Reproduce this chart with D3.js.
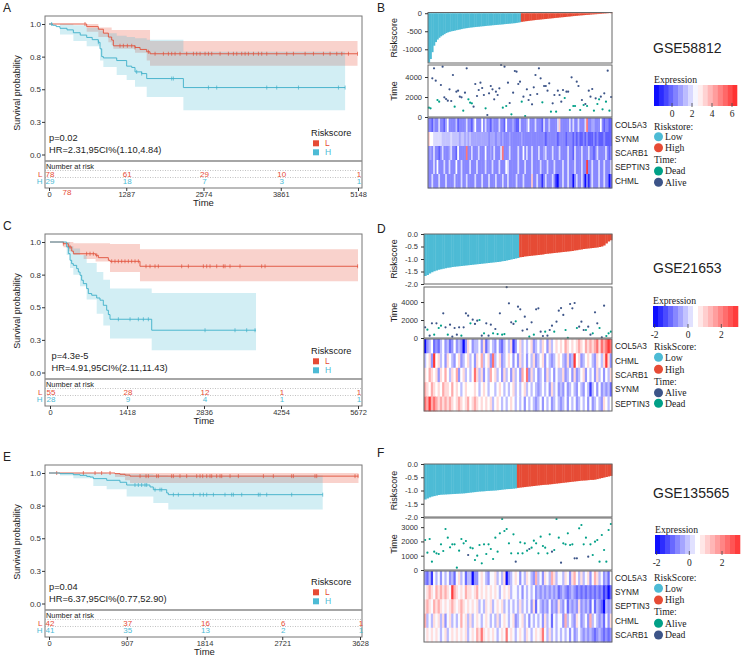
<!DOCTYPE html>
<html>
<head>
<meta charset="utf-8">
<script src="https://cdn.jsdelivr.net/npm/d3@7"></script>
<style>
  body { margin: 0; background: #fff; }
</style>
</head>
<body>
<svg id="fig" width="743" height="657"></svg>
<script>
// ---------- survival curves (time, survival) ----------
const kmA_L = [[0,1],[628,0.98],[822,0.96],[906,0.93],[989,0.9],[1044,0.877],[1072,0.833],[1433,0.82],[1517,0.805],[1628,0.787],[1683,0.772]];
const bandA_L = [[0,1,1],[628,0.94,1],[822,0.9,0.974],[989,0.86,0.974],[1044,0.84,0.954],[1072,0.81,0.954],[1433,0.78,0.954],[1628,0.72,0.954],[1683,0.68,0.87]];
const censA_L = [600,1183,1239,1306,1378,1433,1656,1767,1906,1989,2044,2100,2183,2294,2406,2461,2517,2600,2656,2711,2850,2989,3072,3128,3211,3267,3322,3406,3489,3544,3628,3794,3961,4072,4267,4406,4572,4683,4794,4878,4989,5140];
const kmA_H = [[0,1],[60,0.99],[120,0.98],[183,0.967],[300,0.955],[406,0.933],[520,0.915],[628,0.897],[720,0.88],[822,0.86],[850,0.81],[878,0.75],[906,0.74],[1128,0.72],[1294,0.677],[1378,0.667],[1433,0.633],[1544,0.62],[1628,0.582],[2239,0.513]];
const bandA_H = [[0,1,1],[183,0.92,1],[406,0.87,0.99],[628,0.83,0.97],[850,0.72,0.95],[906,0.67,0.93],[1128,0.61,0.91],[1294,0.57,0.9],[1433,0.52,0.89],[1628,0.44,0.88],[2239,0.34,0.787]];
const censA_H = [44,822,1461,1544,2044,2072,2656,2794,3628,3794,4156,4822,4933];
const ticksA = [0,1287,2574,3861,5148];
const atRiskA_L = [78,61,29,10,1];
const atRiskA_H = [29,18,7,3,1];

const kmC_L = [[0,1],[246,0.987],[338,0.962],[400,0.93],[430,0.91],[840,0.898],[890,0.88],[1075,0.86],[1105,0.852],[1657,0.814]];
const bandC_L = [[0,1,1],[246,0.96,1],[338,0.93,1],[430,0.9,0.99],[620,0.87,0.99],[840,0.85,0.99],[1105,0.77,0.985],[1657,0.7,0.944]];
const censC_L = [246,369,675,737,798,860,1136,1197,1259,1320,1381,1443,1504,1566,1627,1768,1842,1934,1995,2425,2548,2824,2886,2947,3070,3192,3223,3315,3499,3898,3960,5665];
const kmC_H = [[0,1],[307,0.962],[338,0.911],[369,0.86],[399,0.834],[430,0.821],[491,0.796],[522,0.77],[553,0.745],[583,0.707],[614,0.681],[675,0.643],[706,0.605],[768,0.592],[860,0.571],[921,0.554],[982,0.515],[1044,0.477],[1075,0.444],[1105,0.408],[1873,0.324]];
const bandC_H = [[0,1,1],[307,0.9,1],[369,0.8,0.97],[430,0.75,0.95],[553,0.66,0.9],[675,0.56,0.84],[860,0.45,0.77],[982,0.36,0.71],[1105,0.26,0.643],[1873,0.17,0.61]];
const censC_H = [1259,1474,1627,1719,1811,2855,3407,3622,3776];
const ticksC = [0,1418,2836,4254,5672];
const atRiskC_L = [55,28,12,1,1];
const atRiskC_H = [28,9,4,1,1];

const kmE_L = [[0,1],[770,0.995],[828,0.99],[887,0.984],[945,0.976]];
const bandE_L = [[0,1,1],[770,0.97,1],[887,0.945,1],[945,0.923,1]];
const censE_L = [90,401,537,614,712,1062,1132,1159,1256,1276,1431,1451,1528,1606,1723,1762,1793,1840,1878,1898,1956,1995,2015,2112,2209,2501,2617,2831,2851,3103,3123,3570,3605];
const kmE_H = [[0,1],[128,0.995],[284,0.987],[362,0.982],[440,0.974],[478,0.969],[517,0.957],[673,0.944],[828,0.929],[906,0.908],[1178,0.893],[1217,0.872],[1373,0.847],[1392,0.834]];
const bandE_H = [[0,1,1],[128,0.98,1],[284,0.96,1],[517,0.9,1],[673,0.875,0.995],[906,0.82,0.99],[1217,0.77,0.985],[1392,0.72,0.98]];
const censE_H = [1003,1042,1081,1120,1140,1237,1295,1315,1451,1509,1684,1762,1801,1840,1918,2053,2131,2151,2248,2442,2462,2540,2831,3193];
const ticksE = [0,907,1814,2721,3628];
const atRiskE_L = [42,37,16,6,1];
const atRiskE_H = [41,35,13,2,1];

// ---------- risk score / time / status per patient ----------
const riskB = [-1370,-1270,-1080,-900,-800,-730,-680,-640,-610,-580,
  -550,-530,-515,-502,-492,-482,-470,-460,-450,-440,
  -428,-420,-413,-406,-399,-393,-388,-383,-378,-373,
  -368,-363,-358,-353,-348,-344,-339,-334,-330,-325,
  -321,-317,-313,-308,-303,-298,-294,-289,-285,-280,
  -275,-268,-260,-250,-238,-232,-224,-218,-212,-206,
  -200,-194,-189,-184,-179,-174,-169,-164,-159,-154,
  -149,-144,-139,-134,-129,-124,-119,-114,-110,-105,
  -100,-95,-90,-85,-80,-75,-70,-66,-62,-58,
  -54,-50,-46,-42,-38,-34,-30,-27,-24,-21,
  -18,-15,-12,-9,-6,2,25];
const timeB = [930,870,3870,4870,3630,1700,1530,3200,5030,1970,
  1800,1630,2770,1600,4200,1030,2530,2630,2030,1970,
  630,2430,4870,1770,1430,1370,1030,3300,2100,2700,
  3430,2900,2200,870,200,2370,3100,2770,1770,2530,
  2200,2870,5200,930,5030,1100,3430,1400,270,2430,
  4600,4530,3300,3530,1530,2030,100,2770,1700,2200,
  1270,2970,4200,2300,4870,3870,1470,3100,3100,2630,
  3370,530,1370,2200,530,2630,2200,1530,2700,1900,
  2530,2530,700,3970,1100,1100,3530,3100,700,1700,
  1200,1300,1100,2630,2030,2800,630,1870,1300,1770,
  2030,770,2370,1530,4630,630,2000];
const deadB = [1,1,0,0,0,1,1,0,0,0, 0,0,0,0,0,1,0,0,0,0, 1,0,0,1,1,1,0,0,0,0, 0,0,0,1,0,0,0,0,0,0,
  0,0,0,1,0,1,0,0,1,0, 0,0,0,0,1,0,1,0,0,0, 0,0,0,0,0,0,1,0,0,0, 0,1,0,0,1,0,0,0,0,1,
  0,0,1,0,1,1,0,0,1,0, 1,0,1,0,0,0,1,0,1,1, 0,1,0,1,0,1,0];

const riskD = [-1.68,-1.64,-1.58,-1.53,-1.49,-1.46,-1.43,-1.41,-1.39,-1.37,
  -1.35,-1.34,-1.32,-1.31,-1.30,-1.29,-1.28,-1.27,-1.26,-1.25,
  -1.24,-1.23,-1.22,-1.21,-1.20,-1.19,-1.18,-1.17,-1.16,-1.15,
  -1.14,-1.13,-1.12,-1.11,-1.09,-1.08,-1.06,-1.04,-1.02,-1.00,
  -0.98,-0.96,-0.93,-0.92,-0.90,-0.89,-0.88,-0.87,-0.86,-0.85,
  -0.84,-0.83,-0.82,-0.80,-0.79,-0.78,-0.77,-0.76,-0.75,-0.74,
  -0.73,-0.72,-0.71,-0.70,-0.69,-0.68,-0.66,-0.65,-0.63,-0.62,
  -0.60,-0.59,-0.58,-0.57,-0.56,-0.55,-0.54,-0.52,-0.50,-0.46,
  -0.38,-0.30,-0.25];
const timeD = [1190,930,260,1630,370,1630,1110,1370,2740,1190,
  370,1480,150,1110,370,1190,260,1190,2740,2480,
  1630,2040,1560,1930,2000,260,520,1630,260,1480,
  520,1000,440,2740,370,440,5650,3850,1740,1560,
  1850,3480,3190,820,2370,960,150,1740,370,3190,
  3300,700,220,700,260,890,1370,700,1820,3040,
  3330,2560,890,30,3780,3300,3890,1110,1260,1820,
  890,890,1260,370,520,2850,1630,1110,70,3590,
  220,520,700];
const deadD = [0,1,0,0,1,0,1,1,0,0, 1,0,0,0,0,0,1,0,0,0, 1,0,0,0,1,0,1,0,0,0, 1,0,1,0,1,1,0,0,0,0,
  1,0,0,0,0,0,1,0,1,0, 0,0,0,1,0,0,0,1,0,0, 0,0,1,1,0,0,0,1,0,0, 0,1,0,0,1,0,0,1,0,0, 1,1,1];

const riskF = [-1.34,-1.30,-1.26,-1.23,-1.21,-1.19,-1.17,-1.16,-1.155,-1.15,
  -1.145,-1.14,-1.135,-1.13,-1.125,-1.12,-1.115,-1.11,-1.10,-1.09,
  -1.08,-1.07,-1.06,-1.05,-1.04,-1.035,-1.03,-1.02,-1.015,-1.01,
  -1.005,-1.0,-0.99,-0.98,-0.97,-0.96,-0.95,-0.945,-0.94,-0.93,
  -0.92,-0.90,-0.89,-0.88,-0.87,-0.86,-0.85,-0.84,-0.83,-0.82,
  -0.81,-0.80,-0.79,-0.785,-0.78,-0.77,-0.76,-0.75,-0.74,-0.73,
  -0.72,-0.71,-0.70,-0.69,-0.68,-0.67,-0.66,-0.65,-0.64,-0.63,
  -0.625,-0.62,-0.61,-0.60,-0.60,-0.59,-0.57,-0.55,-0.53,-0.51,
  -0.49,-0.47,-0.45];
const timeF = [2100,1210,2170,580,1280,1170,1120,1800,1330,2870,
  2260,1590,1800,1800,160,1350,2170,1870,2030,1050,
  1560,1520,700,1000,1750,470,1800,1120,1800,1470,
  770,2260,1280,2570,3570,2730,2870,1870,1170,2500,
  580,1170,1940,1170,1870,1350,1470,1560,2050,1870,
  1170,2330,1680,1560,1170,2500,1280,1400,3570,2260,
  510,1870,1800,2570,1750,1800,820,820,2920,3150,
  1800,2260,930,1800,1050,1980,2100,580,2450,1400,
  580,2800,3220];
const deadF = [0,0,0,0,0,0,0,0,0,0, 0,0,0,0,0,0,0,0,0,1, 0,0,0,0,0,0,0,0,0,0, 0,0,0,0,0,0,0,0,0,0,
  1,0,0,0,0,0,1,0,0,0, 0,0,0,0,0,0,1,0,0,0, 1,0,0,0,0,0,1,1,0,0, 0,0,1,0,0,0,0,0,0,0, 0,0,0];

// ---------- expression heatmaps (one char per patient, index into levels) ----------
const levelsB = [-1.6,-1.0,-0.2,0.5,1.0,1.5,1.9,2.5,3.5,5,6.2];
const genesB = ["COL5A3","SYNM","SCARB1","SEPTIN3","CHML"];
const heatB = [
  "3324336332 4733335233 3363324733 3736332433 3633273334 3226333473 3363332633 5333368333 3363633633 3693344333 7323322",
  "8776666655 5556555545 5454544444 4444434443 4434333433 3333433333 3333333323 3333323333 2333232322 3232223232 2232222",
  "3436332363 3346332733 3393363336 3337334363 3369333633 3363373633 6333633463 3363336333 3633263336 3336332363 3336323",
  "3336373336 3363337336 3333633363 3336333633 3633376333 3363336333 6333363336 3336333363 3633363336 33a3363336 3363336",
  "3363336333 6333363336 3363333633 3633363336 3336336333 3633363333 8336331363 3363103363 3633036336 3031363336 3363302"
];
const levelsDF = [-2,-1.5,-1,-0.6,-0.2,0.45,0.9,1.5,2.2,2.9];
const genesD = ["COL5A3","CHML","SCARB1","SYNM","SEPTIN3"];
const heatD = [
  "0345232453 4235343036 5344536245 4353245461 3564545634 5465364565 6576565676 5767678687 898",
  "4563956453 6543563456 4536574563 8456345653 5364535463 4563543456 5436349563 4565436546 963",
  "6576563657 5465735645 4586463547 5645364536 4537583645 3453645354 4634536345 6354536453 546",
  "7657656576 6575654565 5565456545 5456545456 4545645454 3454536453 4353454354 3541453534 342",
  "8797876767 6765676567 5676565656 4565454565 4545354543 4535453454 3453545345 4535345436 545"
];
const genesF = ["COL5A3","SYNM","SEPTIN3","CHML","SCARB1"];
const heatF = [
  "3241545354 5342564524 4033565435 5645460345 6535465437 4536547645 5465367546 4563576453 425",
  "5676576767 6597656576 6567565656 5654565645 5453545453 4343434342 3432343232 3232323231 202",
  "6765767656 5676567656 5656454656 4565645454 5464545362 5434353436 4352434363 4342524320 434",
  "7454656463 5645457564 6456545654 5464565456 3456453545 4536452545 5374543653 4537454342 536",
  "5656565456 4565656564 5657686565 6545658565 4565465456 5685464545 4545353454 3434323432 323"
];

// ---------- drawing ----------
const RED = "#E64B35", CYAN = "#4DBBD5", TEAL = "#00A087", NAVY = "#3C5488";
const SANS = "Arial, 'Liberation Sans', sans-serif";
const SERIF = "'Times New Roman', 'Liberation Serif', serif";
const svg = d3.select("#fig").attr("font-family", SANS);

function survAt(steps, t) {
  let s = steps[0][1];
  steps.forEach(p => { if (p[0] <= t) s = p[1]; });
  return s;
}

function txt(g, x, y, s, size, opts = {}) {
  return g.append("text").attr("x", x).attr("y", y).attr("dy", "0.35em")
    .attr("font-size", size).attr("fill", opts.fill || "#222")
    .attr("text-anchor", opts.anchor || "start")
    .attr("font-family", opts.family || SANS).text(s);
}

function drawKM(c) {
  const g = svg.append("g");
  const oy = c.top;
  const x = d3.scaleLinear().domain([0, c.tmax]).range([c.x0, c.x1]);
  const y = d3.scaleLinear().domain([0, 1]).range([oy + 138.5, oy + 8]);

  const area = d3.area().curve(d3.curveStepAfter)
    .x(d => x(d[0])).y0(d => y(d[1])).y1(d => y(d[2]));
  const line = d3.line().curve(d3.curveStepAfter).x(d => x(d[0])).y(d => y(d[1]));

  const groups = [
    {km: c.kmL, band: c.bandL, cens: c.censL, end: c.endL, col: RED, lc: "#E0503A"},
    {km: c.kmH, band: c.bandH, cens: c.censH, end: c.endH, col: CYAN, lc: "#3DAFC8"}
  ];
  groups.forEach(s => {
    const last = s.band[s.band.length - 1];
    g.append("path").datum(s.band.concat([[s.end, last[1], last[2]]]))
      .attr("d", area).attr("fill", s.col).attr("fill-opacity", 0.25);
  });
  groups.forEach(s => {
    const last = s.km[s.km.length - 1];
    g.append("path").datum(s.km.concat([[s.end, last[1]]]))
      .attr("d", line).attr("fill", "none").attr("stroke", s.lc).attr("stroke-width", 0.9);
    g.selectAll(null).data(s.cens).join("line")
      .attr("x1", d => x(d)).attr("x2", d => x(d))
      .attr("y1", d => y(survAt(s.km, d)) - 2).attr("y2", d => y(survAt(s.km, d)) + 2)
      .attr("stroke", s.lc).attr("stroke-width", 0.7);
  });

  // frame
  g.append("rect").attr("x", 45).attr("y", oy).attr("width", 317).attr("height", 172)
    .attr("fill", "none").attr("stroke", "#777").attr("stroke-width", 1);
  g.append("line").attr("x1", 45).attr("x2", 362).attr("y1", oy + 145).attr("y2", oy + 145)
    .attr("stroke", "#888").attr("stroke-width", 1.3);

  const yLabs = ["0.0", "0.3", "0.5", "0.8", "1.0"];
  g.append("g").attr("transform", "translate(45,0)")
    .call(d3.axisLeft(y).tickValues([0, 0.25, 0.5, 0.75, 1]).tickFormat((d, i) => yLabs[i]).tickSize(3).tickPadding(1))
    .attr("font-family", SANS).attr("font-size", 8).attr("color", "#333")
    .call(a => a.select(".domain").remove());
  g.append("g").attr("transform", `translate(0,${oy + 172})`)
    .call(d3.axisBottom(x).tickValues(c.ticks).tickFormat(d3.format("d")).tickSize(3).tickPadding(1))
    .attr("font-family", SANS).attr("font-size", 7.5).attr("color", "#333")
    .call(a => a.select(".domain").remove());

  // risk table
  txt(g, 46, oy + 150.3, "Number at risk", 7.4);
  [oy + 154.5, oy + 161.5].forEach(yy => g.append("line").attr("x1", 45).attr("x2", 362)
    .attr("y1", yy).attr("y2", yy).attr("stroke", "#999").attr("stroke-width", 0.6).attr("stroke-dasharray", "1,1.5"));
  [[c.riskL, RED, "L", oy + 158.2], [c.riskH, CYAN, "H", oy + 165.2]].forEach(([vals, col, lab, yy]) => {
    txt(g, 42.5, yy, lab, 8, {fill: col, anchor: "end"});
    g.selectAll(null).data(vals).join("text")
      .attr("x", (d, i) => x(c.ticks[i]) + 1).attr("y", yy).attr("dy", "0.35em")
      .attr("text-anchor", "middle").attr("font-size", 8).attr("fill", col).text(d => d);
  });
  if (c.extra) txt(g, c.extra[0], c.extra[1], c.extra[2], 8, {fill: RED, anchor: "middle"});

  txt(g, (c.x0 + c.x1) / 2, oy + 187, "Time", 9.5, {anchor: "middle"});
  g.append("text").attr("transform", `translate(17,${oy + 77}) rotate(-90)`).attr("dy", "0.35em")
    .attr("text-anchor", "middle").attr("font-size", 9).attr("fill", "#222").text("Survival probability");

  txt(g, c.px, oy + 122, c.p, 9.3);
  txt(g, c.px, oy + 134, c.hr, 9.3);

  txt(g, 311, oy + 117, "Riskscore", 9.2);
  [["L", RED, oy + 127.3], ["H", CYAN, oy + 136.3]].forEach(([lab, col, yy]) => {
    g.append("rect").attr("x", 313).attr("y", yy - 3).attr("width", 6).attr("height", 6).attr("fill", col);
    txt(g, 325, yy, lab, 8.5, {fill: col});
  });
  txt(g, 3, oy - 8, c.letter, 12);
}

function drawRisk(c) {
  const g = svg.append("g");
  const n = c.risk.length;
  const x = d3.scaleBand().domain(d3.range(n)).range([c.x0, c.x1]);
  const bw = x.bandwidth();

  // risk score bars
  const ry = d3.scaleLinear().domain(c.riskDom).range([c.rBox[1], c.rBox[0]]);
  g.selectAll(null).data(c.risk).join("rect")
    .attr("x", (d, i) => x(i)).attr("width", bw + 0.4)
    .attr("y", d => ry(Math.max(0, d))).attr("height", d => Math.abs(ry(d) - ry(0)))
    .attr("fill", (d, i) => i < c.nLow ? CYAN : RED);

  // time / status
  const ty = d3.scaleLinear().domain(c.timeDom).range([c.tBox[1], c.tBox[0]]);
  g.selectAll(null).data(c.time).join("circle")
    .attr("cx", (d, i) => x(i) + bw / 2).attr("cy", d => ty(d)).attr("r", 1.1)
    .attr("fill", (d, i) => c.dead[i] ? c.deadCol : c.aliveCol);

  // heatmap
  const hy = d3.scaleBand().domain(c.genes).range(c.hBox);
  const col = d3.scaleLinear().domain(c.colDom).range(["#0000ff", "#ffffff", "#ff3030"]).clamp(true);
  c.heat.forEach((row, gi) => {
    const vals = row.replace(/ /g, "").split("").map(ch => c.levels[parseInt(ch, 16)]);
    g.selectAll(null).data(vals).join("rect")
      .attr("x", (d, i) => x(i)).attr("width", (d, i) => i < n - 1 ? bw + 0.5 : bw)
      .attr("y", hy(c.genes[gi])).attr("height", hy.bandwidth() + 0.3)
      .attr("fill", d => col(d));
    txt(g, c.x1 + 3, hy(c.genes[gi]) + hy.bandwidth() / 2, c.genes[gi], 8.3);
  });

  // frames and axes
  [c.rBox, c.tBox, c.hBox].forEach(b => g.append("rect").attr("x", c.x0).attr("y", b[0])
    .attr("width", c.x1 - c.x0).attr("height", b[1] - b[0])
    .attr("fill", "none").attr("stroke", "#666").attr("stroke-width", 1));
  g.append("g").attr("transform", `translate(${c.x0},0)`)
    .call(d3.axisLeft(ry).tickValues(c.riskTicks).tickFormat(c.riskFmt).tickSize(3).tickPadding(3))
    .attr("font-family", SANS).attr("font-size", 7.5).attr("color", "#333")
    .call(a => a.select(".domain").remove());
  g.append("g").attr("transform", `translate(${c.x0},0)`)
    .call(d3.axisLeft(ty).tickValues(c.timeTicks).tickFormat(d3.format("d")).tickSize(3).tickPadding(3))
    .attr("font-family", SANS).attr("font-size", 7.5).attr("color", "#333")
    .call(a => a.select(".domain").remove());
  [["Riskscore", c.rBox], ["Time", c.tBox]].forEach(([lab, b]) =>
    g.append("text").attr("transform", `translate(394,${(b[0] + b[1]) / 2}) rotate(-90)`).attr("dy", "0.35em")
      .attr("text-anchor", "middle").attr("font-size", 9).attr("fill", "#222").text(lab));

  // title
  txt(g, 653, c.titleY, c.title, 14);
  txt(g, 377, c.letterY, c.letter, 12);

  // colour bar
  const cb = c.cbar;
  txt(g, cb.x0, cb.y0 - 5, "Expression", 9.7, {family: SERIF});
  const cx = d3.scaleLinear().domain(cb.dom).range([cb.x0, cb.x1]);
  const steps = d3.range(cb.dom[0], cb.dom[1], (cb.dom[1] - cb.dom[0]) / 17);
  const sw = (cb.x1 - cb.x0) / 17;
  g.selectAll(null).data(steps).join("rect")
    .attr("x", d => cx(d)).attr("width", sw + 0.3)
    .attr("y", cb.y0).attr("height", cb.y1 - cb.y0)
    .attr("fill", d => col(d + (cb.dom[1] - cb.dom[0]) / 34));
  g.selectAll(null).data(cb.ticks).join("line")
    .attr("x1", d => cx(d)).attr("x2", d => cx(d)).attr("y1", cb.y1 - 3).attr("y2", cb.y1 + 1)
    .attr("stroke", "#444").attr("stroke-width", 0.8);
  g.selectAll(null).data(cb.ticks).join("text")
    .attr("x", d => cx(d)).attr("y", cb.labY).attr("dy", "0.35em").attr("text-anchor", "middle")
    .attr("font-family", SERIF).attr("font-size", 9.5).attr("fill", "#222").text(d => d);

  // legend
  c.legend.forEach(([lab, colr, yy]) => {
    if (colr) {
      g.append("circle").attr("cx", 658.5).attr("cy", yy).attr("r", 4.5).attr("fill", colr);
      txt(g, 665, yy, lab, 9.7, {family: SERIF});
    } else {
      txt(g, 654, yy, lab, 9.7, {family: SERIF});
    }
  });
}

drawKM({top: 16, tmax: 5148, x0: 49, x1: 358, ticks: ticksA, letter: "A",
  kmL: kmA_L, bandL: bandA_L, censL: censA_L, endL: 5140,
  kmH: kmA_H, bandH: bandA_H, censH: censA_H, endH: 4933,
  riskL: atRiskA_L, riskH: atRiskA_H, px: 49, p: "p=0.02", hr: "HR=2.31,95CI%(1.10,4.84)",
  extra: [67, 192.3, "78"]});
drawKM({top: 234, tmax: 5672, x0: 50, x1: 358, ticks: ticksC, letter: "C",
  kmL: kmC_L, bandL: bandC_L, censL: censC_L, endL: 5672,
  kmH: kmC_H, bandH: bandC_H, censH: censC_H, endH: 3794,
  riskL: atRiskC_L, riskH: atRiskC_H, px: 51.5, p: "p=4.3e-5", hr: "HR=4.91,95CI%(2.11,11.43)"});
drawKM({top: 465, tmax: 3628, x0: 49, x1: 360, ticks: ticksE, letter: "E",
  kmL: kmE_L, bandL: bandE_L, censL: censE_L, endL: 3610,
  kmH: kmE_H, bandH: bandE_H, censH: censE_H, endH: 3193,
  riskL: atRiskE_L, riskH: atRiskE_H, px: 49, p: "p=0.04", hr: "HR=6.37,95CI%(0.77,52.90)"});

const fmt1 = d => d.toFixed(1);
drawRisk({x0: 428, x1: 612, risk: riskB, nLow: 54, riskDom: [-1380, 20], rBox: [12.5, 63],
  riskTicks: [0, -500, -1000], riskFmt: d => String(d),
  time: timeB, dead: deadB, deadCol: TEAL, aliveCol: NAVY, timeDom: [0, 5200], tBox: [65, 117], timeTicks: [0, 2000, 4000],
  genes: genesB, heat: heatB, levels: levelsB, hBox: [118, 188], colDom: [-1.8, 2.5, 6.3],
  title: "GSE58812", titleY: 48, letter: "B", letterY: 8,
  cbar: {x0: 654, x1: 737, y0: 85, y1: 106, dom: [-1.8, 6.5], ticks: [0, 2, 4, 6], labY: 114},
  legend: [["Riskstore:", null, 126.5], ["Low", CYAN, 136.7], ["High", RED, 147.7],
    ["Time:", null, 159.5], ["Dead", TEAL, 171], ["Alive", NAVY, 182.3]]});
drawRisk({x0: 424, x1: 612, risk: riskD, nLow: 42, riskDom: [-2, 0], rBox: [234, 284],
  riskTicks: [0, -0.5, -1, -1.5, -2], riskFmt: fmt1,
  time: timeD, dead: deadD, deadCol: TEAL, aliveCol: NAVY, timeDom: [0, 5670], tBox: [287, 338], timeTicks: [0, 2000, 4000],
  genes: genesD, heat: heatD, levels: levelsDF, hBox: [339, 411], colDom: [-2.1, 0.45, 3.0],
  title: "GSE21653", titleY: 268, letter: "D", letterY: 229,
  cbar: {x0: 653, x1: 738, y0: 306, y1: 327, dom: [-2.1, 3.0], ticks: [-2, 0, 2], labY: 334.5},
  legend: [["RiskScore:", null, 346.7], ["Low", CYAN, 357.3], ["High", RED, 369.3],
    ["Time:", null, 381.7], ["Alive", NAVY, 392.7], ["Dead", TEAL, 403.3]]});
drawRisk({x0: 424, x1: 612, risk: riskF, nLow: 41, riskDom: [-2, 0], rBox: [464, 517],
  riskTicks: [0, -0.5, -1, -1.5, -2], riskFmt: fmt1,
  time: timeF, dead: deadF, deadCol: NAVY, aliveCol: TEAL, timeDom: [0, 3640], tBox: [518, 570], timeTicks: [0, 1000, 2000, 3000],
  genes: genesF, heat: heatF, levels: levelsDF, hBox: [571, 642], colDom: [-2.1, 0.5, 3.1],
  title: "GSE135565", titleY: 493, letter: "F", letterY: 453,
  cbar: {x0: 655, x1: 740, y0: 535, y1: 554, dom: [-2.1, 3.1], ticks: [-2, 0, 2], labY: 562.7},
  legend: [["RiskScore:", null, 577.3], ["Low", CYAN, 588.3], ["High", RED, 600],
    ["Time:", null, 611.7], ["Alive", TEAL, 623.3], ["Dead", NAVY, 635]]});
</script>
</body>
</html>
